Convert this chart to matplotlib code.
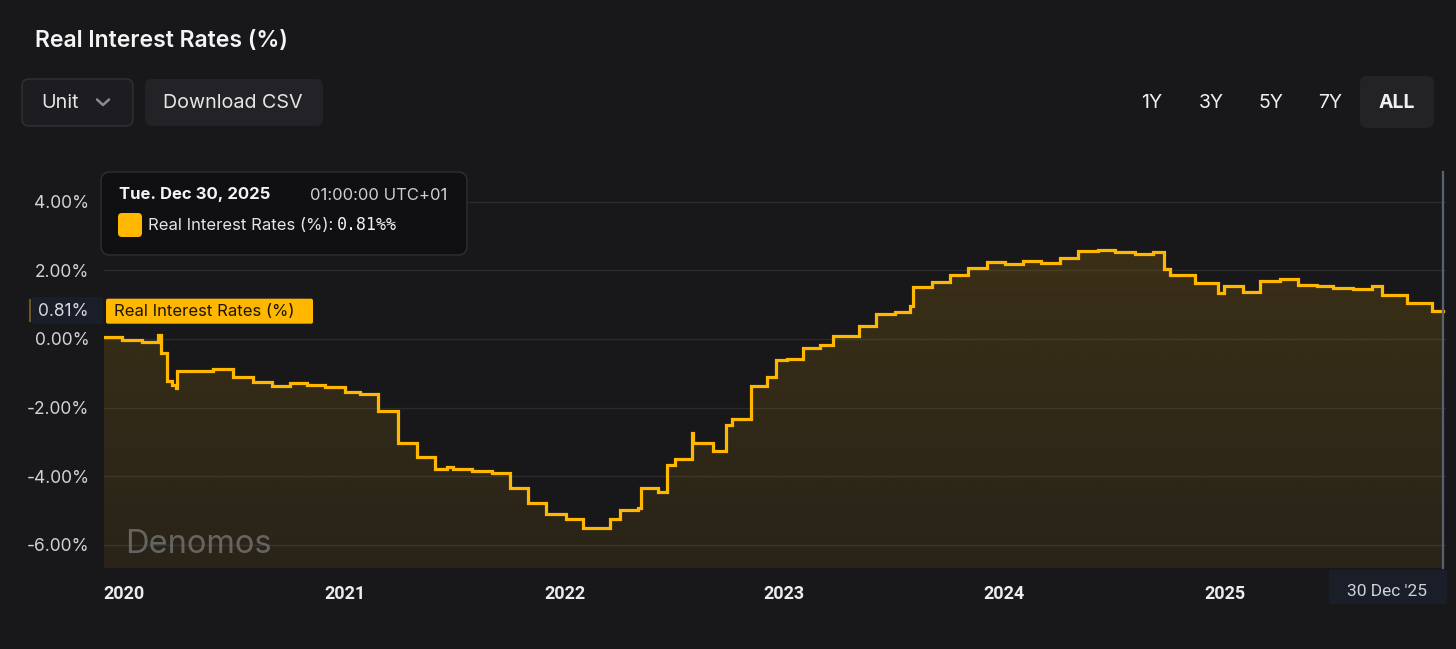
import matplotlib
matplotlib.use("Agg")
import matplotlib.pyplot as plt
import matplotlib.dates as mdates
from matplotlib.patches import FancyBboxPatch, Rectangle
from matplotlib.transforms import Bbox, TransformedBbox
import numpy as np
import pandas as pd

# ---------------- data ----------------
series_name = "Real Interest Rates (%)"
chart_title = "Real Interest Rates (%)"

step_dates = [
    "2019-11-28", "2019-12-28", "2020-01-30", "2020-02-26", "2020-03-01",
    "2020-03-12", "2020-03-20", "2020-03-27", "2020-03-29", "2020-05-27",
    "2020-06-30", "2020-08-02", "2020-09-02", "2020-10-02", "2020-10-30",
    "2020-11-29", "2021-01-01", "2021-01-26", "2021-02-25", "2021-03-30",
    "2021-05-01", "2021-05-31", "2021-06-20", "2021-06-30", "2021-07-31",
    "2021-09-02", "2021-10-03", "2021-11-01", "2021-12-01", "2022-01-03",
    "2022-02-01", "2022-03-17", "2022-04-03", "2022-05-03", "2022-05-08",
    "2022-06-05", "2022-06-20", "2022-07-03", "2022-08-01", "2022-08-03",
    "2022-09-04", "2022-09-26", "2022-10-06", "2022-11-06", "2022-12-03",
    "2022-12-18", "2023-01-05", "2023-02-01", "2023-03-01", "2023-03-23",
    "2023-05-05", "2023-06-02", "2023-07-04", "2023-07-29", "2023-08-03",
    "2023-09-03", "2023-10-03", "2023-11-02", "2023-12-03", "2024-01-02",
    "2024-02-01", "2024-03-02", "2024-04-03", "2024-05-03", "2024-06-05",
    "2024-07-03", "2024-08-05", "2024-09-04", "2024-09-22", "2024-10-02",
    "2024-11-13", "2024-12-21", "2025-01-01", "2025-01-31", "2025-03-01",
    "2025-04-03", "2025-05-03", "2025-06-03", "2025-06-30", "2025-08-02",
    "2025-09-03", "2025-09-19", "2025-10-31", "2025-12-12", "2025-12-30",
]
step_values = [
    0.05, -0.03, -0.08, 0.12, -0.40,
    -1.24, -1.35, -1.43, -0.92, -0.87,
    -1.10, -1.26, -1.36, -1.29, -1.34,
    -1.41, -1.56, -1.60, -2.09, -3.04,
    -3.45, -3.80, -3.72, -3.80, -3.84,
    -3.90, -4.36, -4.77, -5.11, -5.26,
    -5.51, -5.26, -4.99, -4.93, -4.34,
    -4.45, -3.69, -3.50, -2.75, -3.02,
    -3.28, -2.51, -2.34, -1.37, -1.12,
    -0.62, -0.59, -0.25, -0.17, 0.09,
    0.38, 0.72, 0.80, 0.95, 1.52,
    1.67, 1.87, 2.06, 2.25, 2.19,
    2.28, 2.22, 2.35, 2.57, 2.60,
    2.55, 2.48, 2.54, 2.03, 1.87,
    1.62, 1.35, 1.55, 1.38, 1.70,
    1.75, 1.57, 1.55, 1.50, 1.46,
    1.55, 1.28, 1.06, 0.81, 0.81,
]

y_ticks = [-6, -4, -2, 0, 2, 4]
y_tick_labels = ["-6.00%", "-4.00%", "-2.00%", "0.00%", "2.00%", "4.00%"]
x_tick_dates = ["2020-01-01", "2021-01-01", "2022-01-01",
                "2023-01-01", "2024-01-01", "2025-01-01"]
x_tick_labels = ["2020", "2021", "2022", "2023", "2024", "2025"]
last_date_label = "30 Dec '25"
last_value = 0.81
tooltip_date = "Tue. Dec 30, 2025"
tooltip_time = "01:00:00 UTC+01"
range_buttons = ["1Y", "3Y", "5Y", "7Y", "ALL"]
watermark = "Denomos"

# ---------------- style ----------------
W, H = 1456, 649
BG = "#18181b"
AMBER = "#ffb700"
GRID = "#2a2a2f"
plt.rcParams["font.family"] = ["Inter", "DejaVu Sans"]

fig = plt.figure(figsize=(W / 100, H / 100), dpi=100, facecolor=BG)
ax_l, ax_r, ax_t, ax_b = 104, 1446, 172, 568
ax = fig.add_axes([ax_l / W, 1 - ax_b / H, (ax_r - ax_l) / W, (ax_b - ax_t) / H])
ax.set_facecolor(BG)

dates = pd.to_datetime(step_dates)
xnum = mdates.date2num(dates)
ybot, ytop = -6.68, 4.87
xmin, xmax = xnum[0], xnum[-1] + 5

# gradient fill under the line
poly = ax.fill_between(xnum, step_values, ybot, step="post",
                       facecolor="none", edgecolor="none")
grad = np.zeros((256, 1, 4))
grad[..., 0] = 1.0
grad[..., 1] = 184 / 255
grad[..., 2] = 0.0
grad[..., 3] = np.linspace(0.17, 0.075, 256)[:, None]
im = ax.imshow(grad, extent=[xnum[0], xnum[-1], ybot, ytop], aspect="auto",
               origin="upper", zorder=1, interpolation="bilinear")
im.set_clip_path(poly.get_paths()[0], transform=ax.transData)

ax.step(xnum, step_values, where="post", color=AMBER, lw=2.3, zorder=3,
        solid_joinstyle="miter")

ax.set_xlim(xmin, xmax)
ax.set_ylim(ybot, ytop)
ax.set_yticks(y_ticks)
ax.set_yticklabels(y_tick_labels)
ax.yaxis.grid(True, color=GRID, lw=1.0)
ax.xaxis.grid(False)
ax.set_axisbelow(True)
ax.tick_params(axis="y", length=0, pad=10.5, labelcolor="#d2d3d7", labelsize=12.5)
ax.set_xticks(mdates.date2num(pd.to_datetime(x_tick_dates)))
ax.set_xticklabels(x_tick_labels)
ax.tick_params(axis="x", length=0, pad=12, labelcolor="#ececee", labelsize=13)
clipbox = TransformedBbox(Bbox([[(ax_l - 1) / W, 0], [1, 1]]), fig.transFigure)
for lab in ax.get_xticklabels():
    lab.set_fontfamily(["Roboto", "DejaVu Sans"])
    lab.set_fontweight("bold")
    lab.set_clip_on(True)
    lab.set_clip_box(clipbox)
for s in ax.spines.values():
    s.set_visible(False)

ax.text(0.016, 0.06, watermark, transform=ax.transAxes, fontsize=23.5,
        color="#707070", alpha=0.85, ha="left", va="center", zorder=4)

# ---------------- overlay (pixel coordinates) ----------------
ov = fig.add_axes([0, 0, 1, 1], zorder=5)
ov.set_xlim(0, W)
ov.set_ylim(H, 0)
ov.axis("off")
ov.patch.set_alpha(0)

fig.canvas.draw()
x_last = ax.transData.transform((xnum[-1], 0))[0]
y_last = H - ax.transData.transform((xnum[0], last_value))[1]


def rbox(x0, y0, w, h, r, fc, ec="none", lw=0.0, z=6):
    p = FancyBboxPatch((x0, y0), w, h, boxstyle=f"round,pad=0,rounding_size={r}",
                       fc=fc, ec=ec, lw=lw, zorder=z)
    ov.add_patch(p)


# title
ov.text(35, 41, chart_title, fontsize=16.5, fontweight="semibold", color="#f4f4f5",
        ha="left", va="center", zorder=8)

# buttons
rbox(22, 79, 111, 47, 7, "#1d1d21", ec="#323236", lw=1.0)
ov.text(41, 102.5, "Unit", fontsize=14.2, color="#e6e6e8", ha="left", va="center",
        zorder=8)
ov.plot([97, 103, 109], [99.5, 105, 99.5], color="#8a8a90", lw=1.8,
        solid_capstyle="round", zorder=8)
rbox(145, 79, 178, 47, 7, "#232327")
ov.text(163, 102.5, "Download CSV", fontsize=14.2, color="#e6e6e8", ha="left",
        va="center", zorder=8)

rbox(1360, 76, 74, 52, 7, "#232326")
btn_x = [1152, 1211, 1271, 1330, 1397]
for lbl, bx in zip(range_buttons, btn_x):
    ov.text(bx, 103, lbl, fontsize=14, color="#f0f0f2", ha="center", va="center",
            fontweight="bold" if lbl == "ALL" else "normal", zorder=8)

# cursor line
ov.plot([x_last, x_last], [ax_t, ax_b], color="#5c6172", lw=1.6, zorder=6)

# tooltip
rbox(101, 172, 366, 83, 9, "#101012", ec="#303034", lw=1.0, z=8)
ov.text(119, 195, tooltip_date, fontsize=12, fontweight="bold", color="#f4f4f5",
        ha="left", va="center", zorder=9)
ov.text(447, 195, tooltip_time, fontsize=12, color="#cfcfd3", ha="right",
        va="center", zorder=9)
rbox(118, 213, 24, 24, 4, AMBER, z=9)
ov.text(148, 225, f"{series_name}:", fontsize=12, color="#e4e4e7", ha="left",
        va="center", zorder=9)
ov.text(337, 225.5, f"{last_value:.2f}%%", fontsize=12, color="#f4f4f5",
        ha="left", va="center", zorder=9,
        family=["DejaVu Sans Mono", "DejaVu Sans"])

# series label on the price line
rbox(106, y_last - 12.5, 207, 25, 2, AMBER, z=7)
ov.text(114, y_last, series_name, fontsize=12, color="#1c1608", ha="left",
        va="center", zorder=8)

# last value on the y scale
ov.add_patch(Rectangle((32, y_last - 14), 71, 27, fc="#1a1e29", ec="none", zorder=6))
ov.plot([29.5, 29.5], [y_last - 11, y_last + 10], color="#6b5520", lw=1.5, zorder=7)
ov.text(89, y_last, f"{last_value:.2f}%", fontsize=12.5, color="#d6d8de",
        ha="right", va="center", zorder=7)

# last date on the time scale
ov.add_patch(Rectangle((1329, 570), 118, 34, fc="#1a1e29", ec="none", zorder=6))
ov.text(1387, 591, last_date_label, fontsize=12.5, color="#d0d2d8", ha="center",
        va="center", zorder=7, family=["Roboto", "DejaVu Sans"])

fig.savefig("out.png", dpi=100, facecolor=BG)
